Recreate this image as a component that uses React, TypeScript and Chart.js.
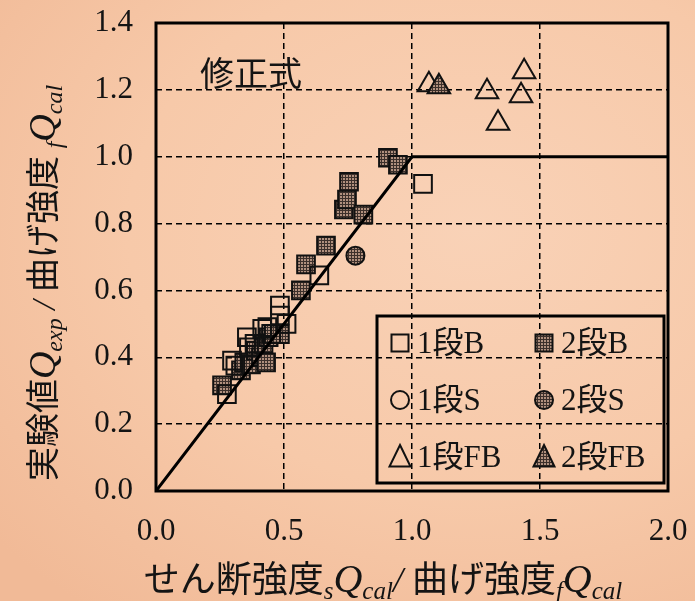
import React, { useEffect, useRef } from 'react';
import { Chart, registerables } from 'chart.js';

Chart.register(...registerables);

// Axis ranges and tick spacing
const xRange = [0, 2];
const yRange = [0, 1.4];
const xStep = 0.5;
const yStep = 0.2;

// Design line "修正式": flexure cap at 1.0
const designLine = [
  [0, 0],
  [1, 1],
  [2, 1],
];

// 1段B (open squares)
const beam1 = [
  [0.277, 0.29], [0.297, 0.39], [0.31, 0.375], [0.355, 0.46], [0.363, 0.43],
  [0.385, 0.44], [0.415, 0.485], [0.435, 0.49], [0.45, 0.47], [0.484, 0.555],
  [0.484, 0.525], [0.51, 0.5], [0.638, 0.645], [1.043, 0.919],
];

// 2段B (hatched squares)
const beam2 = [
  [0.258, 0.316], [0.332, 0.361], [0.345, 0.385], [0.371, 0.379], [0.39, 0.42],
  [0.41, 0.4], [0.43, 0.385], [0.42, 0.44], [0.44, 0.46], [0.46, 0.47],
  [0.484, 0.469], [0.566, 0.6], [0.586, 0.678], [0.664, 0.734], [0.734, 0.842],
  [0.746, 0.872], [0.754, 0.925], [0.81, 0.827], [0.906, 0.997], [0.945, 0.976],
];

// 1段S (open circles) – none tested
const shear1: number[][] = [];

// 2段S (hatched circles)
const shear2 = [[0.779, 0.704]];

// 1段FB (open triangles)
const fb1 = [
  [1.066, 1.215], [1.293, 1.194], [1.438, 1.254], [1.426, 1.182], [1.336, 1.1],
];

// 2段FB (hatched triangles)
const fb2 = [[1.105, 1.209]];

const legendRows = [
  ['1段B', '2段B'],
  ['1段S', '2段S'],
  ['1段FB', '2段FB'],
];
const legendShapes = ['rect', 'circle', 'triangle'];

const SERIF = "'Liberation Serif', 'Times New Roman', serif";
const CJK = "'Noto Sans CJK JP', sans-serif";
const INK = '#141414';

const toXY = (arr: number[][]) => arr.map(([x, y]) => ({ x, y }));

function makeHatch(): CanvasPattern | string {
  const c = document.createElement('canvas');
  c.width = 3;
  c.height = 3;
  const g = c.getContext('2d');
  if (!g) return '#8c7468';
  g.fillStyle = '#b0907e';
  g.fillRect(0, 0, 3, 3);
  g.fillStyle = '#3c302b';
  g.fillRect(0, 0, 3, 1);
  g.fillRect(0, 0, 1, 3);
  const p = g.createPattern(c, 'repeat');
  return p || '#8c7468';
}

type Seg = { t: string; f: string; dy?: number };

function drawRich(ctx: CanvasRenderingContext2D, segs: Seg[], cx: number, cy: number, rot = 0) {
  ctx.save();
  ctx.translate(cx, cy);
  if (rot) ctx.rotate(rot);
  let total = 0;
  const widths = segs.map((s) => {
    ctx.font = s.f;
    const w = ctx.measureText(s.t).width;
    total += w;
    return w;
  });
  let x = -total / 2;
  ctx.textBaseline = 'alphabetic';
  ctx.textAlign = 'left';
  ctx.fillStyle = INK;
  segs.forEach((s, i) => {
    ctx.font = s.f;
    ctx.fillText(s.t, x, s.dy || 0);
    x += widths[i];
  });
  ctx.restore();
}

function drawMarker(
  ctx: CanvasRenderingContext2D,
  shape: string,
  x: number,
  y: number,
  fill: CanvasPattern | string | null,
) {
  ctx.save();
  ctx.beginPath();
  if (shape === 'rect') {
    ctx.rect(x - 8.5, y - 8.5, 17, 17);
  } else if (shape === 'circle') {
    ctx.arc(x, y, 9, 0, Math.PI * 2);
  } else {
    ctx.moveTo(x, y - 12);
    ctx.lineTo(x + 10.5, y + 9.5);
    ctx.lineTo(x - 10.5, y + 9.5);
    ctx.closePath();
  }
  if (fill) {
    ctx.fillStyle = fill as any;
    ctx.fill();
  }
  ctx.lineWidth = 2;
  ctx.strokeStyle = '#111';
  ctx.stroke();
  ctx.restore();
}

export default function App() {
  const ref = useRef<HTMLCanvasElement | null>(null);

  useEffect(() => {
    const canvas = ref.current;
    if (!canvas) return;
    const hatch = makeHatch();

    const decor = {
      id: 'decor',
      afterDatasetsDraw(chart: any) {
        const { ctx, chartArea: a } = chart;
        // plot frame
        ctx.save();
        ctx.strokeStyle = '#000';
        ctx.lineWidth = 3;
        ctx.setLineDash([]);
        ctx.strokeRect(a.left, a.top, a.right - a.left, a.bottom - a.top);
        ctx.restore();

        // series label for the design line
        ctx.save();
        ctx.font = `34px ${CJK}`;
        ctx.fillStyle = INK;
        ctx.textBaseline = 'alphabetic';
        ctx.fillText('修正式', a.left + 44, a.top + 63);
        ctx.restore();

        // legend box inside the plot, anchored to the lower-right corner
        const lw = 287;
        const lh = 167;
        const lx = a.right - 4 - lw;
        const ly = a.bottom - 8 - lh;
        ctx.save();
        ctx.strokeStyle = '#000';
        ctx.lineWidth = 3;
        ctx.strokeRect(lx, ly, lw, lh);
        ctx.restore();
        legendRows.forEach((row, r) => {
          const cy = ly + 27 + r * 57;
          row.forEach((label, c) => {
            const mx = lx + (c === 0 ? 23 : 167);
            drawMarker(ctx, legendShapes[r], mx, cy, c === 0 ? null : hatch);
            ctx.save();
            ctx.font = `31px ${SERIF}, ${CJK}`;
            ctx.fillStyle = INK;
            ctx.textBaseline = 'middle';
            ctx.fillText(label, mx + 17, cy + 2);
            ctx.restore();
          });
        });
      },
      afterDraw(chart: any) {
        const { ctx } = chart;
        const q = `italic 38px ${SERIF}`;
        const sub = `italic 24px ${SERIF}`;
        drawRich(
          ctx,
          [
            { t: 'せん断強度', f: `36px ${CJK}` },
            { t: 's', f: `italic 25px ${SERIF}`, dy: 7 },
            { t: 'Q', f: `italic 40px ${SERIF}` },
            { t: 'cal', f: `italic 25px ${SERIF}`, dy: 7 },
            { t: '/ ', f: `italic 36px ${SERIF}` },
            { t: '曲げ強度', f: `36px ${CJK}` },
            { t: 'f', f: `italic 25px ${SERIF}`, dy: 7 },
            { t: 'Q', f: `italic 40px ${SERIF}` },
            { t: 'cal', f: `italic 25px ${SERIF}`, dy: 7 },
          ],
          383,
          592,
        );
        drawRich(
          ctx,
          [
            { t: '実験値', f: `34px ${CJK}` },
            { t: 'Q', f: q },
            { t: 'exp', f: sub, dy: 7 },
            { t: ' / ', f: `italic 34px ${SERIF}` },
            { t: '曲げ強度 ', f: `34px ${CJK}` },
            { t: 'f', f: sub, dy: 7 },
            { t: 'Q', f: q },
            { t: 'cal', f: sub, dy: 7 },
          ],
          55,
          283,
          -Math.PI / 2,
        );
      },
    };

    const tickFont = { family: SERIF, size: 31 };
    const gridOpts = { color: '#000', lineWidth: 1.5, drawTicks: false };

    const chart = new Chart(canvas, {
      type: 'scatter',
      data: {
        datasets: [
          {
            label: '修正式',
            data: toXY(designLine),
            showLine: true,
            borderColor: '#000',
            borderWidth: 3,
            pointRadius: 0,
            fill: false,
          },
          {
            label: '2段FB',
            data: toXY(fb2),
            pointStyle: 'triangle',
            pointRadius: 13,
            backgroundColor: hatch as any,
            borderColor: '#111',
            borderWidth: 2,
          },
          {
            label: '1段FB',
            data: toXY(fb1),
            pointStyle: 'triangle',
            pointRadius: 13,
            backgroundColor: 'rgba(0,0,0,0)',
            borderColor: '#111',
            borderWidth: 2,
          },
          {
            label: '2段S',
            data: toXY(shear2),
            pointStyle: 'circle',
            pointRadius: 9,
            backgroundColor: hatch as any,
            borderColor: '#111',
            borderWidth: 2,
          },
          {
            label: '1段S',
            data: toXY(shear1),
            pointStyle: 'circle',
            pointRadius: 9,
            backgroundColor: 'rgba(0,0,0,0)',
            borderColor: '#111',
            borderWidth: 2,
          },
          {
            label: '1段B',
            data: toXY(beam1),
            pointStyle: 'rect',
            pointRadius: 12.5,
            backgroundColor: 'rgba(0,0,0,0)',
            borderColor: '#111',
            borderWidth: 2,
          },
          {
            label: '2段B',
            data: toXY(beam2),
            pointStyle: 'rect',
            pointRadius: 12.5,
            backgroundColor: hatch as any,
            borderColor: '#111',
            borderWidth: 2,
          },
        ],
      },
      options: {
        responsive: false,
        animation: false,
        devicePixelRatio: 1,
        layout: { padding: { left: 0, right: 27, top: 23, bottom: 0 } },
        plugins: {
          legend: { display: false },
          tooltip: { enabled: false },
        },
        scales: {
          x: {
            type: 'linear',
            min: xRange[0],
            max: xRange[1],
            afterFit: (s: any) => {
              s.height = 110;
              s.paddingLeft = 0;
              s.paddingRight = 0;
            },
            ticks: {
              stepSize: xStep,
              font: tickFont,
              color: INK,
              padding: 22,
              maxRotation: 0,
              callback: (v: any) => Number(v).toFixed(1),
            },
            grid: gridOpts,
            border: { display: false, dash: [6, 4] },
          },
          y: {
            type: 'linear',
            min: yRange[0],
            max: yRange[1],
            afterFit: (s: any) => {
              s.width = 156;
              s.paddingTop = 0;
              s.paddingBottom = 0;
            },
            ticks: {
              stepSize: yStep,
              font: tickFont,
              color: INK,
              padding: 23,
              callback: (v: any) => Number(v).toFixed(1),
            },
            grid: gridOpts,
            border: { display: false, dash: [6, 4] },
          },
        },
      },
      plugins: [decor],
    });

    return () => chart.destroy();
  }, []);

  return (
    <div
      style={{
        position: 'absolute',
        left: 0,
        top: 0,
        width: 695,
        height: 601,
        background:
          'radial-gradient(ellipse 90% 80% at 68% 38%, #f9d2b7 0%, #f7c9a9 55%, #f1ba97 100%)',
      }}
    >
      <canvas ref={ref} width={695} height={601} style={{ display: 'block' }} />
    </div>
  );
}
